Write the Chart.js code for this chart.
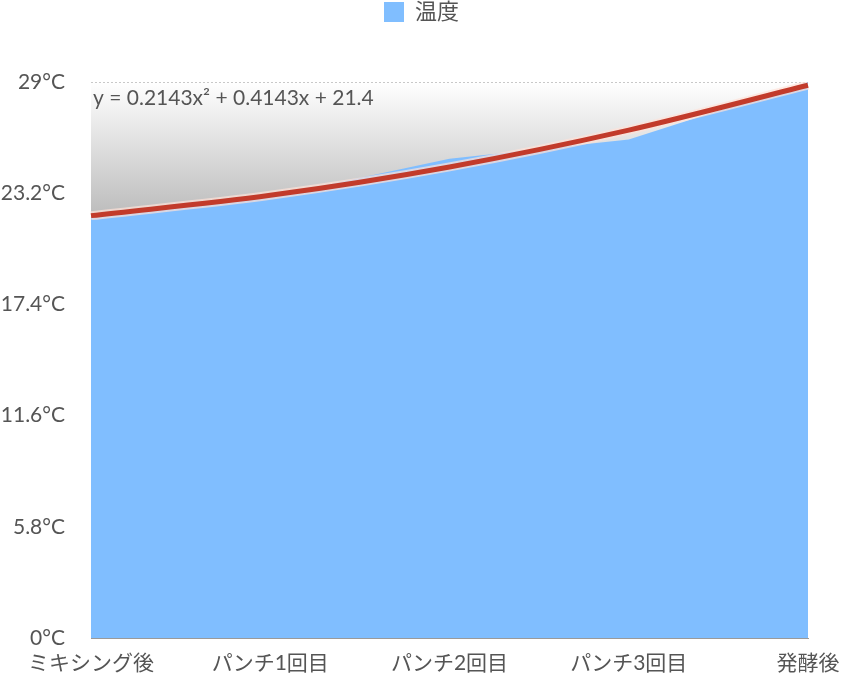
<!DOCTYPE html>
<html>
<head>
<meta charset="utf-8">
<script src="https://cdn.jsdelivr.net/npm/chart.js@4"></script>
<style>
  html, body { margin: 0; padding: 0; background: #fff; }
  #wrap { width: 843px; height: 679px; }
</style>
</head>
<body>
<div id="wrap"><canvas id="tempChart"></canvas></div>
<script>
const stages = ['ミキシング後', 'パンチ1回目', 'パンチ2回目', 'パンチ3回目', '発酵後'];
const temps = [22, 23, 25, 26, 29];
// trend curve at each stage
const trendValues = [22.03, 23.09, 24.57, 26.49, 28.83];
const yTicks = [0, 5.8, 11.6, 17.4, 23.2, 29];
const yTickLabels = ['0°C', '5.8°C', '11.6°C', '17.4°C', '23.2°C', '29°C'];
const trendLabel = 'y = 0.2143x² + 0.4143x + 21.4';
const seriesName = '温度';

const fontFamily = 'Lato, "Noto Sans CJK JP", sans-serif';
Chart.defaults.font.family = fontFamily;
Chart.defaults.color = '#555';

// push the plot down below the legend
const legendGap = {
    id: 'legendGap',
    beforeInit(chart) {
        const fit = chart.legend.fit;
        chart.legend.fit = function () {
            fit.bind(chart.legend)();
            this.height += 49;
        };
    }
};

// gray gradient behind the plot, under the grid lines
const plotBackground = {
    id: 'plotBackground',
    beforeDraw(chart) {
        const { ctx, chartArea } = chart;
        if (!chartArea) return;
        const g = ctx.createLinearGradient(0, chartArea.top, 0, chartArea.bottom);
        g.addColorStop(0, '#ffffff');
        g.addColorStop(0.25, '#b9b9b9');
        g.addColorStop(1, '#b9b9b9');
        ctx.save();
        ctx.fillStyle = g;
        ctx.fillRect(chartArea.left, chartArea.top,
            chartArea.right - chartArea.left, chartArea.bottom - chartArea.top);
        ctx.restore();
    }
};

// equation text in the upper left of the plot
const trendText = {
    id: 'trendText',
    afterDatasetsDraw(chart) {
        const { ctx, chartArea } = chart;
        ctx.save();
        ctx.font = '21px ' + fontFamily;
        ctx.fillStyle = '#555';
        ctx.textBaseline = 'middle';
        ctx.fillText(trendLabel, chartArea.left + 2, chartArea.top + 16);
        ctx.restore();
    }
};

new Chart(document.getElementById('tempChart'), {
    type: 'line',
    data: {
        labels: stages,
        datasets: [
            {
                label: seriesName,
                data: temps,
                borderWidth: 0,
                borderColor: '#80beff',
                backgroundColor: '#80beff',
                pointRadius: 0,
                tension: 0,
                fill: 'origin',
                order: 3
            },
            {
                label: 'trendHalo',
                data: trendValues,
                borderColor: 'rgba(255, 225, 215, 0.7)',
                borderWidth: 9,
                pointRadius: 0,
                cubicInterpolationMode: 'monotone',
                fill: false,
                order: 2
            },
            {
                label: 'trend',
                data: trendValues,
                borderColor: '#c23b2b',
                borderWidth: 5,
                pointRadius: 0,
                cubicInterpolationMode: 'monotone',
                fill: false,
                order: 1
            }
        ]
    },
    options: {
        responsive: true,
        maintainAspectRatio: false,
        animation: false,
        layout: { padding: 0 },
        plugins: {
            legend: {
                position: 'top',
                labels: {
                    boxWidth: 20,
                    boxHeight: 20,
                    padding: 1,
                    color: '#555',
                    font: { size: 22 },
                    filter: item => item.text === seriesName
                }
            },
            tooltip: { enabled: false }
        },
        scales: {
            x: {
                grid: { display: false, drawTicks: false },
                border: { display: true, color: '#9a9a9a', width: 1 },
                afterFit: axis => {
                    axis.height = 41;
                    axis.paddingLeft = 0;
                    axis.paddingRight = 35;
                },
                ticks: {
                    padding: 13,
                    maxRotation: 0,
                    autoSkip: false,
                    font: { size: 21 },
                    color: '#555'
                }
            },
            y: {
                min: 0,
                max: 29,
                afterBuildTicks: axis => {
                    axis.ticks = yTicks.map(v => ({ value: v }));
                },
                afterFit: axis => {
                    axis.width = 91;
                },
                grid: {
                    drawTicks: false,
                    color: '#c8c8c8',
                    lineWidth: 1
                },
                border: { display: false, dash: [2, 2] },
                ticks: {
                    padding: 26,
                    font: { size: 21 },
                    color: '#555',
                    callback: (value, index) => yTickLabels[index]
                }
            }
        }
    },
    plugins: [legendGap, plotBackground, trendText]
});
</script>
</body>
</html>
